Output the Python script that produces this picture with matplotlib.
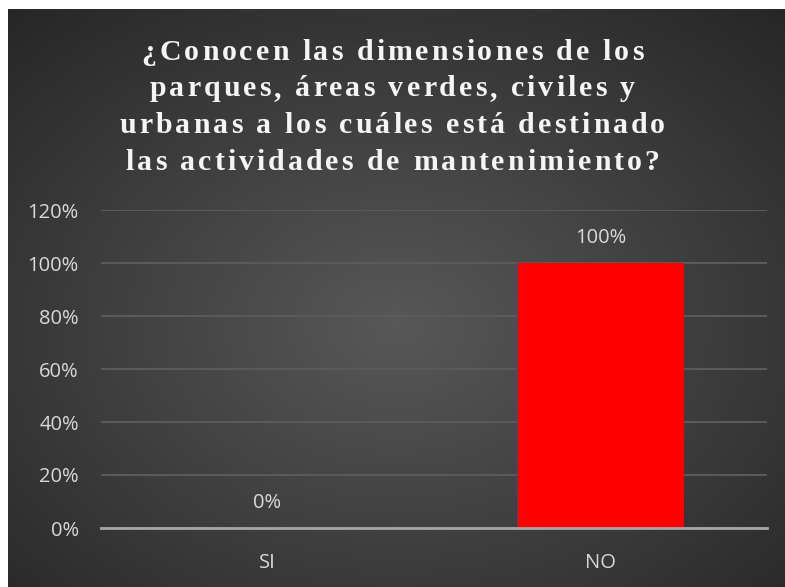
import numpy as np
import matplotlib
matplotlib.use("Agg")
import matplotlib.pyplot as plt

# Data
categories = ["SI", "NO"]
values = [0, 100]          # porcentaje
value_labels = ["0%", "100%"]
y_ticks = [0, 20, 40, 60, 80, 100, 120]
title_lines = [
    "¿Conocen las dimensiones de los",
    "parques, áreas verdes, civiles y",
    "urbanas a los cuáles está destinado",
    "las actividades de mantenimiento?",
]

W, H = 785, 587
fig = plt.figure(figsize=(W / 100, H / 100), dpi=100, facecolor="white")

# dark radial gradient background (white margin left/top)
bg = fig.add_axes([8 / W, 0, (W - 8) / W, (H - 9) / H])
gx, gy = np.meshgrid(np.linspace(0, 1, 400), np.linspace(0, 1, 300))
r = np.sqrt(((gx - 0.5) / 0.75) ** 2 + ((gy - 0.55) / 0.75) ** 2)
r = np.clip(r, 0, 1)
c0 = np.array([0x58, 0x58, 0x58]) / 255
c1 = np.array([0x26, 0x26, 0x26]) / 255
img = c0[None, None, :] * (1 - r[..., None]) + c1[None, None, :] * r[..., None]
bg.imshow(img, aspect="auto", extent=[0, 1, 0, 1], interpolation="bilinear")
bg.set_axis_off()

# plot area
left, right = 101, 767
top_px, bot_px = 210, 528
ax = fig.add_axes([left / W, 1 - bot_px / H, (right - left) / W, (bot_px - top_px) / H])
ax.patch.set_alpha(0)

x = np.arange(len(categories))
ax.bar(x, values, width=0.5, color="#ff0000", zorder=3)
ax.set_xlim(-0.5, len(categories) - 0.5)
ax.set_ylim(0, 120)
ax.set_yticks(y_ticks)
ax.set_yticklabels([f"{t}%" for t in y_ticks])
ax.set_xticks(x)
ax.set_xticklabels(categories)

for s in ["top", "right", "left"]:
    ax.spines[s].set_visible(False)
ax.spines["bottom"].set_color("#a6a6a6")
ax.spines["bottom"].set_linewidth(2)
ax.spines["bottom"].set_zorder(4)

ax.grid(axis="y", color="#5a5a5a", linewidth=1.5, zorder=0)
ax.tick_params(axis="both", length=0, labelsize=14.5, labelcolor="#d9d9d9",
               labelfontfamily="Open Sans")
ax.tick_params(axis="y", pad=16)
ax.tick_params(axis="x", pad=18)

for xi, v, lab in zip(x, values, value_labels):
    ax.annotate(lab, (xi, v), xytext=(0, 18), textcoords="offset points",
                ha="center", va="center", color="#d9d9d9", fontsize=14.5,
                family="Open Sans")

# title with letter spacing
renderer = fig.canvas.get_renderer()
title_base = [60, 96, 133, 170]
fs = 21.5
spacing = 3.0  # px between letters
for line, yb in zip(title_lines, title_base):
    widths = []
    for ch in line:
        t = fig.text(0, 0, ch if ch != " " else "a", fontsize=fs, fontweight="bold",
                     family="Liberation Serif")
        w = t.get_window_extent(renderer).width
        if ch == " ":
            w *= 0.5
        widths.append(w)
        t.remove()
    total = sum(widths) + spacing * (len(line) - 1)
    xs = W / 2 - total / 2
    for ch, w in zip(line, widths):
        if ch != " ":
            fig.text(xs / W, 1 - yb / H, ch, fontsize=fs, fontweight="bold",
                     family="Liberation Serif", color="#f5f5f5", ha="left",
                     va="baseline")
        xs += w + spacing

fig.savefig("out.png", dpi=100, facecolor="white")
